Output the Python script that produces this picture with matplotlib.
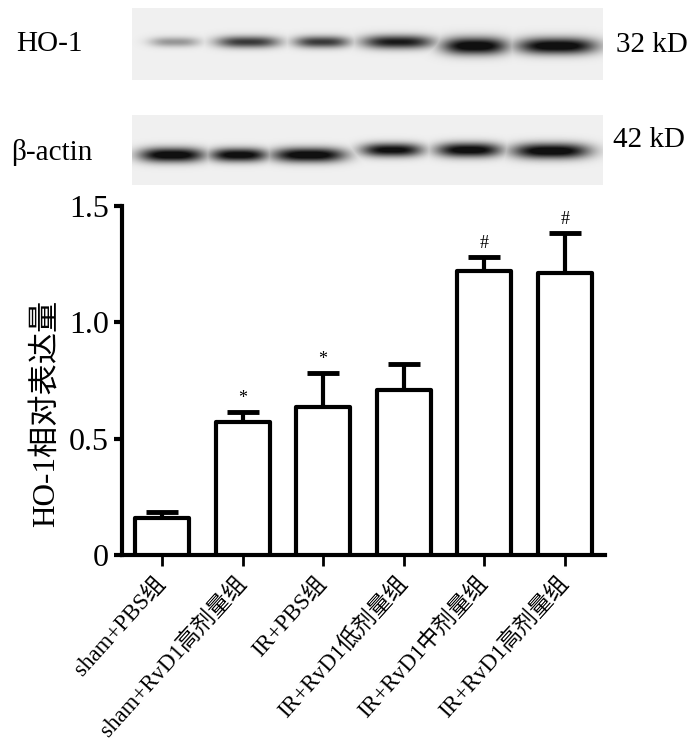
import numpy as np
import matplotlib
matplotlib.use("Agg")
import matplotlib.pyplot as plt

# ---------------- data ----------------
groups = ["sham+PBS组", "sham+RvD1高剂量组", "IR+PBS组",
          "IR+RvD1低剂量组", "IR+RvD1中剂量组", "IR+RvD1高剂量组"]
means = [0.16, 0.57, 0.637, 0.709, 1.22, 1.213]
errs = [0.025, 0.045, 0.145, 0.112, 0.06, 0.17]
marks = ["", "*", "*", "", "#", "#"]
yticks = [0, 0.5, 1.0, 1.5]
ytick_labels = ["0", "0.5", "1.0", "1.5"]
ylabel = "HO-1相对表达量"

# blot band relative intensities (lane order as groups)
ho1_intensity = [0.35, 0.72, 0.72, 0.85, 1.0, 1.0]
actin_intensity = [1.0, 0.97, 1.0, 0.93, 0.97, 1.0]
blot_rows = ["HO-1", "β-actin"]
blot_sizes = ["32 kD", "42 kD"]

# ---------------- layout / style ----------------
W, H, DPI = 700, 754, 100
SERIF = ["Liberation Serif", "Noto Sans CJK SC"]
fig = plt.figure(figsize=(W / DPI, H / DPI), dpi=DPI)

def fx(px):
    return px / W

def fy(py):
    return 1 - py / H

# band geometry (px inside blot panels)
ho1_x = [43, 116, 190, 266, 343, 425]
ho1_y = [34, 34, 34, 34, 38, 38]
ho1_w = [50, 64, 56, 72, 66, 80]
ho1_h = [11, 13, 13, 15, 19, 18]
act_x = [40, 107, 177, 260, 337, 419]
act_y = [40, 40, 40, 35, 35, 36]
act_w = [66, 58, 74, 62, 66, 78]
act_h = [16, 15, 16, 15, 16, 17]

def draw_blot(top, bottom, cx, cy, bw, bh, inten):
    left, right = 132, 603
    ax = fig.add_axes([fx(left), fy(bottom), fx(right - left), (bottom - top) / H])
    pw, ph = right - left, bottom - top
    xx, yy = np.meshgrid(np.arange(pw) + 0.5, np.arange(ph) + 0.5)
    dark = np.zeros_like(xx)
    for x0, y0, w, h, a in zip(cx, cy, bw, bh, inten):
        prof = np.exp(-(np.abs((xx - x0) / (w / 2.0)) ** 3) - ((yy - y0) / (h / 2.0)) ** 2 * 1.2)
        dark = np.maximum(dark, a * prof)
    bg = 0.94
    img = bg * (1 - 0.93 * np.clip(dark * 1.15, 0, 1))
    ax.imshow(img, cmap="gray", vmin=0, vmax=1, extent=[0, pw, ph, 0],
              aspect="auto", interpolation="bilinear")
    ax.set_xlim(0, pw)
    ax.set_ylim(ph, 0)
    ax.axis("off")
    return ax

draw_blot(8, 80, ho1_x, ho1_y, ho1_w, ho1_h, ho1_intensity)
draw_blot(115, 185, act_x, act_y, act_w, act_h, actin_intensity)

fig.text(fx(16), fy(44), blot_rows[0], family=SERIF, fontsize=21, ha="left", va="center")
fig.text(fx(11), fy(153), blot_rows[1], family=SERIF, fontsize=21, ha="left", va="center")
fig.text(fx(616), fy(45), blot_sizes[0], family=SERIF, fontsize=21, ha="left", va="center")
fig.text(fx(613), fy(140), blot_sizes[1], family=SERIF, fontsize=21, ha="left", va="center")

# ---------------- bar chart ----------------
ax = fig.add_axes([fx(121.7), fy(555), fx(605 - 121.7), (555 - 206) / H])
x = np.arange(len(groups))
LW = 3.0
ax.bar(x, means, width=0.67, facecolor="white", edgecolor="black",
       linewidth=LW, joinstyle="round", zorder=3)
ax.errorbar(x, means, yerr=[np.zeros(len(errs)), errs], fmt="none",
            ecolor="black", elinewidth=LW, capsize=11.5, capthick=LW + 0.5, zorder=2)
for xi, m, e, s in zip(x, means, errs, marks):
    if s:
        ax.text(xi, m + e + 0.022, s, ha="center", va="bottom",
                family=SERIF, fontsize=13)

ax.set_xlim(-0.5, 5.5)
ax.set_ylim(0, 1.5)
ax.set_yticks(yticks)
ax.set_yticklabels(ytick_labels, family=SERIF, fontsize=23)
ax.set_xticks(x)
ax.set_xticklabels(groups, family=SERIF, fontsize=16.5, rotation=48,
                   ha="right", va="center", rotation_mode="anchor")
for sp in ["top", "right"]:
    ax.spines[sp].set_visible(False)
for sp in ["left", "bottom"]:
    ax.spines[sp].set_linewidth(LW)
ax.tick_params(axis="y", direction="out", length=6, width=LW, pad=3)
ax.tick_params(axis="x", direction="out", length=8, width=2, pad=10)
ax.set_ylabel(ylabel, family=SERIF, fontsize=22.5)
ax.yaxis.set_label_coords(-0.124, 0.407)

fig.savefig("out.png", dpi=DPI)
